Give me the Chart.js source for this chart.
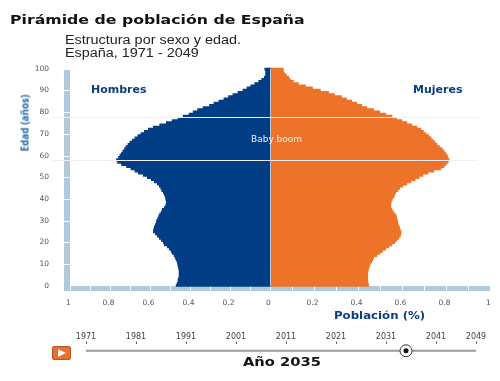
<!DOCTYPE html>
<html>
<head>
<meta charset="utf-8">
<title>Pirámide de población de España</title>
<script src="https://cdn.jsdelivr.net/npm/chart.js@4"></script>
<style>
    html, body { margin: 0; padding: 0; background: #fff; }
    #page { position: relative; width: 500px; height: 381px; overflow: hidden; font-family: "DejaVu Sans", sans-serif; }
    #page canvas { position: absolute; left: 0; }
    .txt { position: absolute; white-space: nowrap; line-height: 1; transform-origin: left center; }
    .blue { color: #0a3d82; font-weight: bold; }
    .sub { font-family: "Liberation Sans", sans-serif; font-size: 12px; color: #222; transform: scaleX(1.2); }
    #play { position: absolute; left: 52px; top: 346px; width: 19px; height: 14px; box-sizing: border-box; background: #e8702c; border: 1px solid #b5562a; border-radius: 2px; }
    #play:after { content: ""; position: absolute; left: 5px; top: 1.5px; border-left: 8px solid #fff; border-top: 4.5px solid transparent; border-bottom: 4.5px solid transparent; }
</style>
</head>
<body>
<div id="page">
    <canvas id="pyramid" width="500" height="320" style="top:0"></canvas>
    <canvas id="slider" width="500" height="43" style="top:330px"></canvas>
    <div class="txt" style="left:10px;top:13px;font-size:13px;font-weight:bold;color:#111;transform:scaleX(1.21)">Pirámide de población de España</div>
    <div class="txt sub" style="left:65px;top:34px">Estructura por sexo y edad.</div>
    <div class="txt sub" style="left:65px;top:47px">España, 1971 - 2049</div>
    <div class="txt blue" style="left:91px;top:85px;font-size:10px;transform:scaleX(1.1)">Hombres</div>
    <div class="txt blue" style="left:413px;top:85px;font-size:10px;transform:scaleX(1.1)">Mujeres</div>
    <div class="txt" style="left:251px;top:135px;font-size:9px;color:#f4f0ee">Baby boom</div>
    <div class="txt blue" style="left:334px;top:310px;font-size:10.5px;transform:scaleX(1.12)">Población (%)</div>
    <div class="txt" style="left:243px;top:355px;font-size:13px;font-weight:bold;color:#111;transform:scaleX(1.13)">Año 2035</div>
    <div class="txt" style="left:-6px;top:119px;width:60px;text-align:center;font-family:'Open Sans',sans-serif;font-size:11px;font-weight:bold;color:#1d62a8;transform-origin:center;transform:rotate(-90deg) scaleX(0.9)">Edad (años)</div>
    <div id="play"></div>
</div>
<script>
const ages = [0, 1, 2, 3, 4, 5, 6, 7, 8, 9,
    10, 11, 12, 13, 14, 15, 16, 17, 18, 19,
    20, 21, 22, 23, 24, 25, 26, 27, 28, 29,
    30, 31, 32, 33, 34, 35, 36, 37, 38, 39,
    40, 41, 42, 43, 44, 45, 46, 47, 48, 49,
    50, 51, 52, 53, 54, 55, 56, 57, 58, 59,
    60, 61, 62, 63, 64, 65, 66, 67, 68, 69,
    70, 71, 72, 73, 74, 75, 76, 77, 78, 79,
    80, 81, 82, 83, 84, 85, 86, 87, 88, 89,
    90, 91, 92, 93, 94, 95, 96, 97, 98, 99, 100];

const hombres = [.468, .463, .458, .458, .453, .453, .453, .453, .455, .458,
    .46, .463, .468, .473, .478, .488, .493, .502, .512, .527,
    .532, .542, .552, .562, .572, .582, .58, .577, .572, .567,
    .565, .56, .555, .55, .542, .537, .527, .52, .517, .517,
    .52, .522, .527, .532, .54, .545, .552, .562, .577, .592,
    .612, .632, .657, .674, .694, .716, .741, .761, .766, .756,
    .749, .741, .734, .726, .719, .709, .699, .687, .674, .659,
    .644, .627, .607, .582, .55, .517, .488, .458, .433, .403,
    .383, .361, .333, .301, .279, .254, .229, .206, .184, .159,
    .134, .114, .095, .075, .055, .04, .027, .02, .02, .02, .025];

const mujeres = [.447, .445, .443, .443, .443, .443, .443, .445, .447, .45,
    .454, .461, .466, .47, .484, .498, .511, .525, .539, .553,
    .566, .575, .584, .591, .594, .594, .589, .587, .582, .58,
    .578, .575, .573, .568, .559, .553, .548, .548, .548, .55,
    .555, .562, .566, .571, .58, .589, .603, .621, .639, .658,
    .676, .694, .717, .744, .776, .79, .799, .808, .813, .808,
    .804, .797, .79, .781, .769, .758, .749, .74, .731, .721,
    .708, .696, .685, .667, .644, .621, .598, .575, .553, .525,
    .498, .47, .438, .416, .393, .37, .347, .324, .292, .265,
    .228, .192, .16, .128, .105, .091, .084, .073, .064, .059, .059];

const popTicks = [0, 0.2, 0.4, 0.6, 0.8, 1];
const boomAges = [58, 78];
const yearTicks = [1971, 1981, 1991, 2001, 2011, 2021, 2031, 2041, 2049];
const currentYear = 2035;

const stripColor = '#b1c9dc';

const axisFont = { family: '"DejaVu Sans"', size: 7.5 };

// the men's side is a bit narrower than the women's in the picture: 200px against 220px per 1%
const sideRatio = 200 / 220;

// the light blue bars along both axes, and the white lines over the pyramid
const decorations = {
    id: 'decorations',
    beforeDatasetsDraw(chart) {
        const ctx = chart.ctx;
        const y = chart.scales.y;
        const xL = chart.scales.xL;
        const xR = chart.scales.xR;
        const top = 70, bottom = 291, axisTop = 286, left = 64, right = 490;
        ctx.save();
        ctx.fillStyle = stripColor;
        ctx.fillRect(left, top, 6, bottom - top);
        ctx.fillRect(left, axisTop, right - left, bottom - axisTop);
        ctx.fillStyle = '#fff';
        for (let a = 10; a <= 90; a += 10) {
            ctx.fillRect(left, Math.round(y.getPixelForValue(a)), 6, 1);
        }
        for (let v = 0; v <= 10; v++) {
            ctx.fillRect(Math.round(xL.getPixelForValue(v / 10)), axisTop, 1, bottom - axisTop);
            ctx.fillRect(Math.round(xR.getPixelForValue(v / 10)), axisTop, 1, bottom - axisTop);
        }
        ctx.restore();
    },
    afterDatasetsDraw(chart) {
        const ctx = chart.ctx;
        const y = chart.scales.y;
        ctx.save();
        ctx.fillStyle = '#f1efef';
        boomAges.forEach(a => {
            ctx.fillRect(52, Math.round(y.getPixelForValue(a)), 426, 1);
        });
        ctx.fillStyle = '#b9c9d8';
        ctx.fillRect(270, 69, 1, 217);
        ctx.restore();
    }
};

new Chart(document.getElementById('pyramid'), {
    type: 'bar',
    data: {
        labels: ages,
        datasets: [{
            label: 'Hombres',
            data: hombres,
            xAxisID: 'xL',
            backgroundColor: '#023e85',
            inflateAmount: 0.6
        }, {
            label: 'Mujeres',
            data: mujeres,
            xAxisID: 'xR',
            backgroundColor: '#ec7329',
            inflateAmount: 0.6
        }]
    },
    options: {
        indexAxis: 'y',
        responsive: false,
        animation: false,
        grouped: false,
        barPercentage: 1,
        categoryPercentage: 1,
        layout: {
            padding: { top: 67.7, right: 10, bottom: 9.2, left: 0 }
        },
        plugins: {
            legend: { display: false },
            tooltip: { enabled: false }
        },
        scales: {
            y: {
                reverse: true,
                afterFit(scale) { scale.width = 70; },
                grid: { display: false },
                border: { display: false },
                ticks: {
                    autoSkip: false,
                    padding: 13,
                    font: axisFont,
                    color: '#555',
                    callback(value) {
                        const age = this.getLabelForValue(value);
                        return age % 10 === 0 ? age : '';
                    }
                }
            },
            // both axes run the full width, the ranges put 0 at the same pixel
            xL: {
                type: 'linear',
                display: false,
                reverse: true,
                min: -1 / sideRatio,
                max: 1
            },
            // only this one shows labels, left side ticks are its negative values
            xR: {
                type: 'linear',
                position: 'bottom',
                min: -sideRatio,
                max: 1,
                afterFit(scale) {
                    scale.height = 24;
                    // tick padding would otherwise eat into the right margin
                    scale.paddingLeft = 0;
                    scale.paddingRight = 0;
                },
                afterBuildTicks(scale) {
                    const leftSide = popTicks.slice(1).reverse().map(v => ({ value: -v * sideRatio }));
                    scale.ticks = leftSide.concat(popTicks.map(v => ({ value: v })));
                },
                grid: { display: false, drawTicks: false },
                border: { display: false },
                ticks: {
                    autoSkip: false,
                    padding: 12,
                    labelOffset: -1.5,
                    maxRotation: 0,
                    font: axisFont,
                    color: '#555',
                    callback(value) {
                        const v = value < 0 ? -value / sideRatio : value;
                        return String(Math.round(v * 10) / 10);
                    }
                }
            }
        }
    },
    plugins: [decorations]
});

new Chart(document.getElementById('slider'), {
    type: 'scatter',
    data: {
        datasets: [{
            data: [{ x: currentYear, y: 0 }],
            pointRadius: 2.5,
            pointBackgroundColor: '#111',
            pointBorderWidth: 0,
            clip: false
        }, {
            data: [{ x: currentYear, y: 0 }],
            pointRadius: 6,
            pointBackgroundColor: '#fff',
            pointBorderColor: '#333',
            pointBorderWidth: 1,
            clip: false
        }, {
            data: [{ x: yearTicks[0], y: 0 }, { x: yearTicks[yearTicks.length - 1], y: 0 }],
            showLine: true,
            borderColor: '#999',
            borderWidth: 2,
            pointRadius: 0
        }]
    },
    options: {
        responsive: false,
        animation: false,
        layout: {
            padding: { left: 86, right: 24, top: 2, bottom: 15 }
        },
        plugins: {
            legend: { display: false },
            tooltip: { enabled: false }
        },
        scales: {
            x: {
                type: 'linear',
                position: 'top',
                min: yearTicks[0],
                max: yearTicks[yearTicks.length - 1],
                afterBuildTicks(scale) { scale.ticks = yearTicks.map(v => ({ value: v })); },
                grid: { drawOnChartArea: false, tickLength: 2, tickColor: '#2a6aa8' },
                border: { display: false },
                ticks: {
                    autoSkip: false,
                    maxRotation: 0,
                    padding: 0,
                    font: { family: '"DejaVu Sans"', size: 8 },
                    color: '#444',
                    callback(value) { return String(value); }
                }
            },
            y: { display: false, min: -1, max: 1 }
        }
    }
});
</script>
</body>
</html>
